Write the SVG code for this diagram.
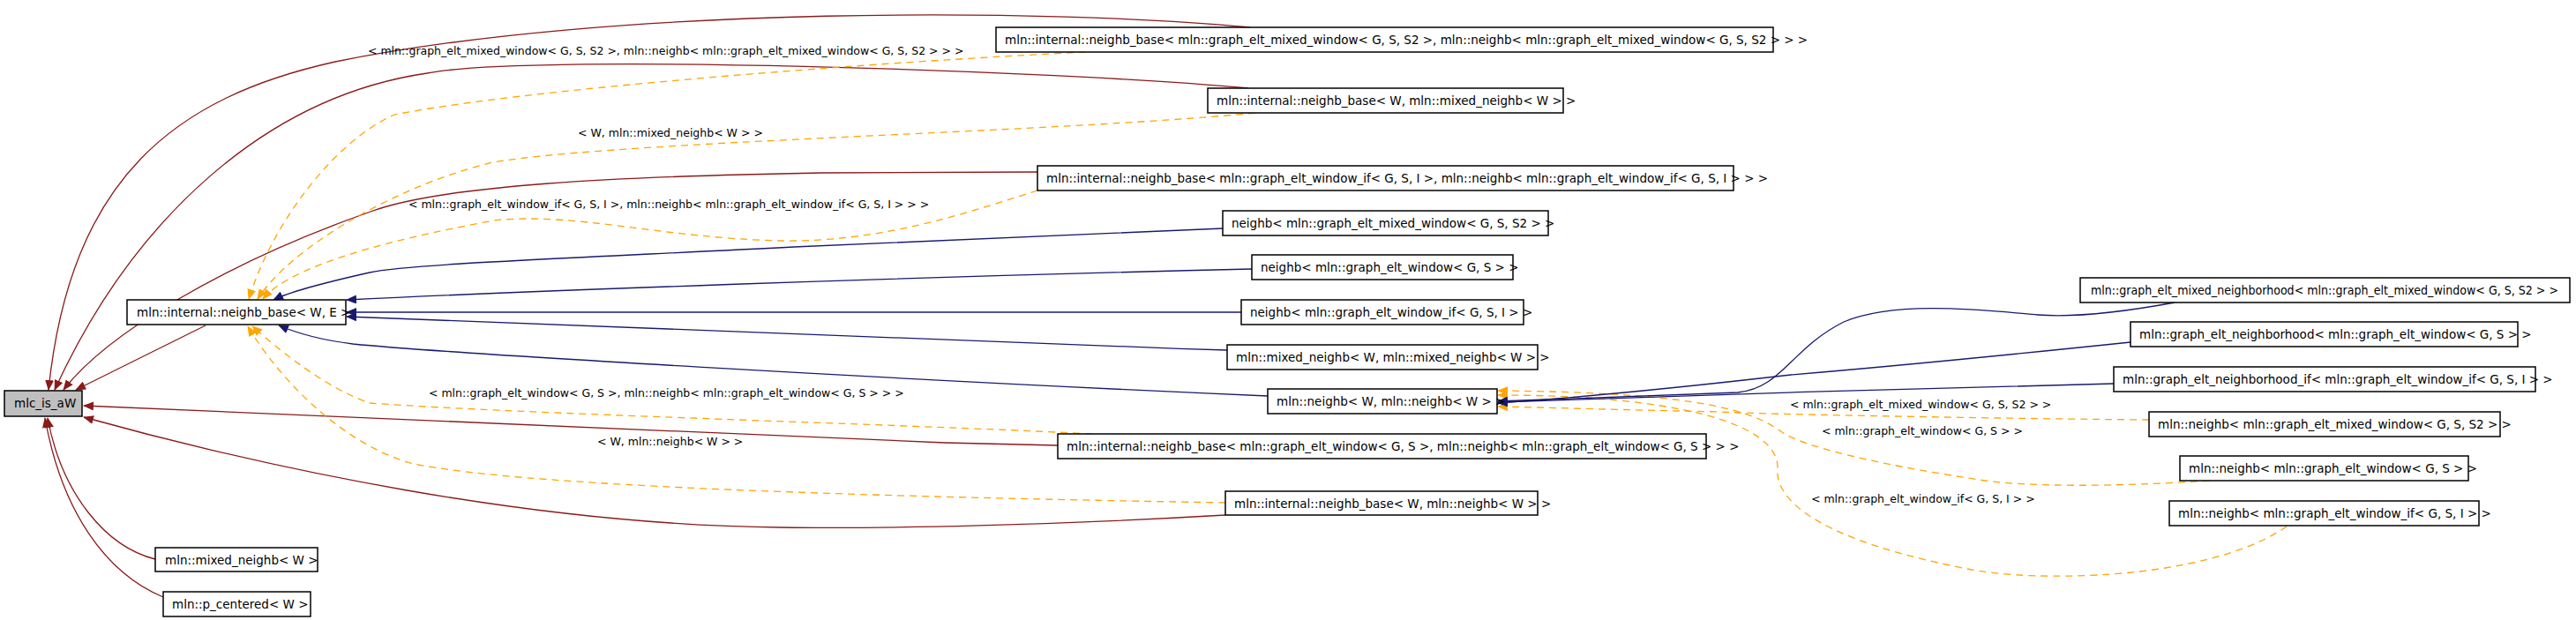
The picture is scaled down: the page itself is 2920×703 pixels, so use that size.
<svg xmlns="http://www.w3.org/2000/svg" width="2920" height="703" viewBox="0 0 2920 703">
<style>
.n rect{fill:#fff;stroke:#000;stroke-width:1.5}
.n text{font-family:"DejaVu Sans",sans-serif;font-size:13.5px;fill:#000}
.lb{font-family:"DejaVu Sans",sans-serif;font-size:12.5px;fill:#000}
.r{fill:none;stroke:#8b1a1a;stroke-width:1.3;marker-end:url(#mr)}
.b{fill:none;stroke:#191970;stroke-width:1.3;marker-end:url(#mb)}
.o{fill:none;stroke:#ffa500;stroke-width:1.3;stroke-dasharray:8,6;marker-end:url(#mo)}
</style>
<defs>
<marker id="mr" markerWidth="12" markerHeight="10" refX="11" refY="5" orient="auto" markerUnits="userSpaceOnUse"><path d="M0,0L12,5L0,10z" fill="#8b1a1a"/></marker>
<marker id="mb" markerWidth="12" markerHeight="10" refX="11" refY="5" orient="auto" markerUnits="userSpaceOnUse"><path d="M0,0L12,5L0,10z" fill="#191970"/></marker>
<marker id="mo" markerWidth="12" markerHeight="10" refX="11" refY="5" orient="auto" markerUnits="userSpaceOnUse"><path d="M0,0L12,5L0,10z" fill="#ffa500"/></marker>
</defs>
<rect width="2920" height="703" fill="#fff"/>
<g id="edges">
<path class="r" d="M1417,31 C1200,10 700,5 380,70 C200,110 80,200 55,442"/>
<path class="r" d="M1415,100 C1200,80 600,60 484,83 C300,110 150,250 62,442"/>
<path class="r" d="M1176,195 L931,196 C700,200 500,210 420,240 C250,300 120,380 72,442"/>
<path class="r" d="M233,369 L86,442"/>
<path class="r" d="M1199,505 L1071,502 L95,460"/>
<path class="r" d="M1389,584 C1200,595 1000,600 885,598 C600,595 300,530 95,473"/>
<path class="r" d="M176,634 C120,620 70,560 54,474"/>
<path class="r" d="M185,677 C120,650 70,580 51,474"/>
<path class="o" d="M1231,59 C1000,70 600,100 447,130 C380,160 310,250 282,339"/>
<path class="o" d="M1423,128 C1200,150 700,160 559,184 C450,210 330,280 292,339"/>
<path class="o" d="M1176,216 C1100,240 1000,275 885,273 C750,270 650,240 560,250 C450,270 330,300 298,339"/>
<path class="o" d="M1238,492 C1000,480 600,470 419,457 C370,440 320,400 286,370"/>
<path class="o" d="M1389,570 C1100,565 600,555 465,525 C380,500 310,420 281,370"/>
<path class="b" d="M1386,259 L900,280 C600,295 460,300 419,309 C370,320 330,330 310,340"/>
<path class="b" d="M1419,305 C1000,315 600,330 393,340"/>
<path class="b" d="M1407,354 L393,354"/>
<path class="b" d="M1391,397 C1000,385 600,365 393,359"/>
<path class="b" d="M1437,449 C1000,430 500,400 400,390 C360,385 330,375 316,369"/>
<path class="o" d="M2436,476 C2300,475 2000,470 1950,467 C1850,465 1750,462 1698,461"/>
<path class="o" d="M2505,545 C2400,552 2300,552 2250,545 C2150,530 2050,510 2020,490 C1980,460 1900,445 1698,443"/>
<path class="o" d="M2592,597 C2500,660 2300,660 2230,645 C2100,620 2010,580 2015,530 C2015,480 1900,448 1698,448"/>
<path class="b" d="M2465,343 C2400,355 2350,360 2310,357 C2250,352 2150,340 2090,365 C2030,395 2020,440 1970,445 L1698,455"/>
<path class="b" d="M2415,388 C2300,400 2150,415 2030,425 C1900,440 1800,450 1698,457"/>
<path class="b" d="M2396,435 C2200,440 1900,448 1698,456"/>
<text class="lb" x="417" y="62">&lt; mln::graph_elt_mixed_window&lt; G, S, S2 &gt;, mln::neighb&lt; mln::graph_elt_mixed_window&lt; G, S, S2 &gt; &gt; &gt;</text>
<text class="lb" x="655" y="155">&lt; W, mln::mixed_neighb&lt; W &gt; &gt;</text>
<text class="lb" x="463" y="236">&lt; mln::graph_elt_window_if&lt; G, S, I &gt;, mln::neighb&lt; mln::graph_elt_window_if&lt; G, S, I &gt; &gt; &gt;</text>
<text class="lb" x="486" y="450">&lt; mln::graph_elt_window&lt; G, S &gt;, mln::neighb&lt; mln::graph_elt_window&lt; G, S &gt; &gt; &gt;</text>
<text class="lb" x="677" y="505">&lt; W, mln::neighb&lt; W &gt; &gt;</text>
<text class="lb" x="2029" y="463">&lt; mln::graph_elt_mixed_window&lt; G, S, S2 &gt; &gt;</text>
<text class="lb" x="2065" y="493">&lt; mln::graph_elt_window&lt; G, S &gt; &gt;</text>
<text class="lb" x="2053" y="570">&lt; mln::graph_elt_window_if&lt; G, S, I &gt; &gt;</text>
</g>
<g id="n0" class="n"><rect x="5" y="443" width="88" height="29" style="fill:#bfbfbf"/><text x="16" y="462">mlc_is_aW</text></g>
<g id="n1" class="n"><rect x="144" y="340" width="248" height="28"/><text x="155" y="359">mln::internal::neighb_base&lt; W, E &gt;</text></g>
<g id="n2" class="n"><rect x="176" y="621" width="184" height="27"/><text x="187" y="640">mln::mixed_neighb&lt; W &gt;</text></g>
<g id="n3" class="n"><rect x="185" y="671" width="167" height="28"/><text x="195" y="690">mln::p_centered&lt; W &gt;</text></g>
<g id="n4" class="n"><rect x="1129" y="31" width="881" height="28"/><text x="1139" y="50">mln::internal::neighb_base&lt; mln::graph_elt_mixed_window&lt; G, S, S2 &gt;, mln::neighb&lt; mln::graph_elt_mixed_window&lt; G, S, S2 &gt; &gt; &gt;</text></g>
<g id="n5" class="n"><rect x="1369" y="100" width="403" height="28"/><text x="1379" y="119">mln::internal::neighb_base&lt; W, mln::mixed_neighb&lt; W &gt; &gt;</text></g>
<g id="n6" class="n"><rect x="1176" y="188" width="789" height="28"/><text x="1186" y="207">mln::internal::neighb_base&lt; mln::graph_elt_window_if&lt; G, S, I &gt;, mln::neighb&lt; mln::graph_elt_window_if&lt; G, S, I &gt; &gt; &gt;</text></g>
<g id="n7" class="n"><rect x="1386" y="239" width="369" height="28"/><text x="1396" y="258">neighb&lt; mln::graph_elt_mixed_window&lt; G, S, S2 &gt; &gt;</text></g>
<g id="n8" class="n"><rect x="1419" y="289" width="296" height="28"/><text x="1429" y="308">neighb&lt; mln::graph_elt_window&lt; G, S &gt; &gt;</text></g>
<g id="n9" class="n"><rect x="1407" y="340" width="320" height="28"/><text x="1417" y="359">neighb&lt; mln::graph_elt_window_if&lt; G, S, I &gt; &gt;</text></g>
<g id="n10" class="n"><rect x="1391" y="391" width="352" height="28"/><text x="1401" y="410">mln::mixed_neighb&lt; W, mln::mixed_neighb&lt; W &gt; &gt;</text></g>
<g id="n11" class="n"><rect x="1437" y="441" width="260" height="28"/><text x="1447" y="460">mln::neighb&lt; W, mln::neighb&lt; W &gt; &gt;</text></g>
<g id="n12" class="n"><rect x="1199" y="492" width="735" height="28"/><text x="1209" y="511">mln::internal::neighb_base&lt; mln::graph_elt_window&lt; G, S &gt;, mln::neighb&lt; mln::graph_elt_window&lt; G, S &gt; &gt; &gt;</text></g>
<g id="n13" class="n"><rect x="1389" y="557" width="354" height="27"/><text x="1399" y="576">mln::internal::neighb_base&lt; W, mln::neighb&lt; W &gt; &gt;</text></g>
<g id="n14" class="n"><rect x="2358" y="315" width="555" height="28"/><text x="2370" y="334" textLength="530" lengthAdjust="spacingAndGlyphs">mln::graph_elt_mixed_neighborhood&lt; mln::graph_elt_mixed_window&lt; G, S, S2 &gt; &gt;</text></g>
<g id="n15" class="n"><rect x="2415" y="365" width="439" height="28"/><text x="2425" y="384">mln::graph_elt_neighborhood&lt; mln::graph_elt_window&lt; G, S &gt; &gt;</text></g>
<g id="n16" class="n"><rect x="2396" y="416" width="478" height="28"/><text x="2406" y="435">mln::graph_elt_neighborhood_if&lt; mln::graph_elt_window_if&lt; G, S, I &gt; &gt;</text></g>
<g id="n17" class="n"><rect x="2436" y="467" width="398" height="28"/><text x="2446" y="486">mln::neighb&lt; mln::graph_elt_mixed_window&lt; G, S, S2 &gt; &gt;</text></g>
<g id="n18" class="n"><rect x="2471" y="517" width="327" height="28"/><text x="2481" y="536">mln::neighb&lt; mln::graph_elt_window&lt; G, S &gt; &gt;</text></g>
<g id="n19" class="n"><rect x="2459" y="568" width="351" height="28"/><text x="2469" y="587">mln::neighb&lt; mln::graph_elt_window_if&lt; G, S, I &gt; &gt;</text></g>
</svg>
